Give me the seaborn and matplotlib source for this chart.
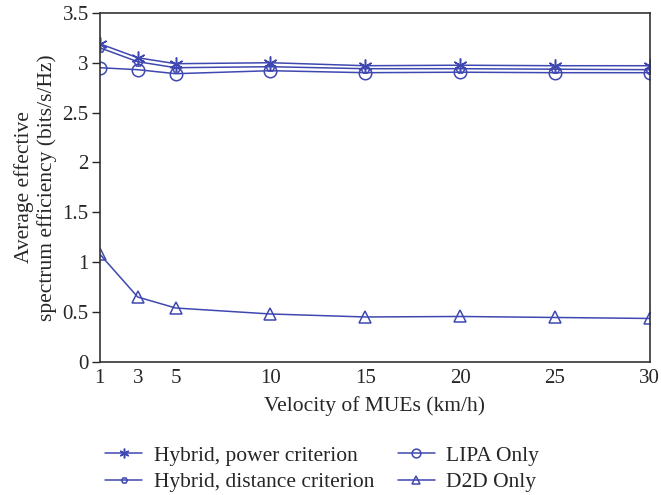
import numpy as np
import pandas as pd
import seaborn as sns
import matplotlib.pyplot as plt

velocity = [1, 3, 5, 10, 15, 20, 25, 30]
hybrid_power = [3.19, 3.05, 2.99, 3.00, 2.97, 2.975, 2.97, 2.97]
hybrid_distance = [3.15, 3.01, 2.95, 2.96, 2.94, 2.94, 2.935, 2.93]
lipa_only = [2.95, 2.93, 2.89, 2.92, 2.90, 2.905, 2.90, 2.90]
d2d_only = [1.08, 0.65, 0.54, 0.48, 0.45, 0.455, 0.445, 0.435]

series = {
    "Hybrid, power criterion": hybrid_power,
    "Hybrid, distance criterion": hybrid_distance,
    "LIPA Only": lipa_only,
    "D2D Only": d2d_only,
}
df = pd.DataFrame(
    [(v, name, y) for name, ys in series.items() for v, y in zip(velocity, ys)],
    columns=["velocity", "scheme", "value"],
)

sns.set_style("white")
plt.rcParams["font.family"] = ["Liberation Serif", "DejaVu Serif"]
plt.rcParams["font.size"] = 15.5

color = "#3f48b0"
fig = plt.figure(figsize=(6.61, 4.95), dpi=100)
ax = fig.add_axes([0.151, 0.269, 0.832, 0.705])

markers = {
    "Hybrid, power criterion": (6, 2, 0),
    "Hybrid, distance criterion": "H",
    "LIPA Only": "o",
    "D2D Only": "^",
}
sizes = {"Hybrid, power criterion": 10, "Hybrid, distance criterion": 6,
         "LIPA Only": 9, "D2D Only": 9}
for name in series:
    sub = df[df["scheme"] == name]
    sns.lineplot(data=sub, x="velocity", y="value", ax=ax, color=color,
                 linewidth=1.1, marker=markers[name], markersize=sizes[name],
                 markerfacecolor="none", markeredgecolor=color,
                 markeredgewidth=1.1, label=name)

ax.set_xlim(1, 30)
ax.set_ylim(0, 3.5)
ax.set_xticks(velocity)
ax.set_yticks([0, 0.5, 1, 1.5, 2, 2.5, 3, 3.5])
ax.set_yticklabels(["0", "0.5", "1", "1.5", "2", "2.5", "3", "3.5"], fontsize=15)
ax.set_xticklabels([str(v) for v in velocity], fontsize=15)
ax.set_xlabel("Velocity of MUEs (km/h)", labelpad=6)
ax.set_ylabel("Average effective\nspectrum efficiency (bits/s/Hz)", labelpad=4)
ax.tick_params(axis="x", direction="in", length=5, width=1, pad=5)
ax.tick_params(axis="y", direction="out", length=6, width=1, left=True, pad=2)
for s in ax.spines.values():
    s.set_color("#333333")
    s.set_linewidth(1.2)

ax.legend(loc="upper left", bbox_to_anchor=(-0.025, -0.185), ncol=2, frameon=False,
          handlelength=1.7, handletextpad=0.55, columnspacing=1.1,
          labelspacing=0.3, markerscale=0.7)

plt.savefig("out.png", dpi=100)
